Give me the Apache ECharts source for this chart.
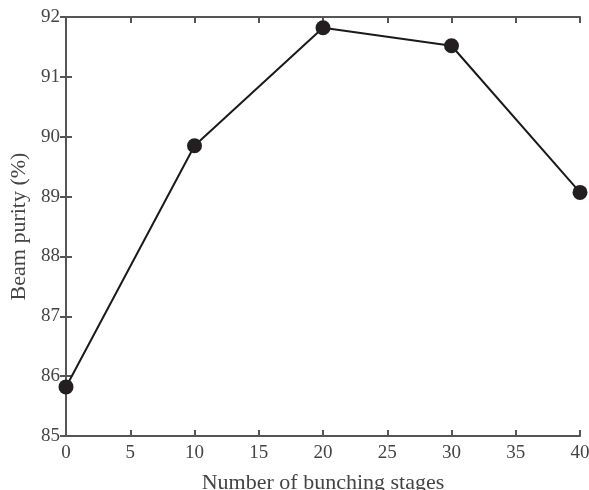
<!DOCTYPE html>
<html>
<head>
<meta charset="utf-8">
<script src="https://cdn.jsdelivr.net/npm/echarts@6/dist/echarts.min.js"></script>
<style>
  html, body { margin: 0; padding: 0; background: #fff; }
  #chart { width: 589px; height: 490px; }
</style>
</head>
<body>
<div id="chart"></div>
<script>
// Beam purity versus number of bunching stages
const stages = [0, 10, 20, 30, 40];
const purity = [85.82, 89.85, 91.82, 91.52, 89.07];
const xTicks = [0, 5, 10, 15, 20, 25, 30, 35, 40];
const yTicks = [85, 86, 87, 88, 89, 90, 91, 92];

const font = 'Liberation Serif, Times New Roman, serif';
const axisColor = '#555';
const textColor = '#444';

const tickStyle = { show: true, inside: true, length: 6, lineStyle: { color: axisColor, width: 2 } };
const lineStyle = { show: true, lineStyle: { color: axisColor, width: 2 } };

const chart = echarts.init(document.getElementById('chart'));
chart.setOption({
  animation: false,
  grid: { left: 66, right: 9, top: 17, bottom: 54, containLabel: false, outerBoundsMode: 'none' },
  xAxis: [{
    type: 'value',
    min: xTicks[0], max: xTicks[xTicks.length - 1], interval: 5,
    name: 'Number of bunching stages', nameLocation: 'middle', nameGap: 36,
    nameTextStyle: { fontFamily: font, fontSize: 22, color: textColor },
    axisLine: lineStyle,
    axisTick: tickStyle,
    axisLabel: { fontFamily: font, fontSize: 19, color: textColor, margin: 8 },
    splitLine: { show: false }
  }, {
    type: 'value', position: 'top',
    min: xTicks[0], max: xTicks[xTicks.length - 1], interval: 5,
    axisLine: lineStyle,
    axisTick: tickStyle,
    axisLabel: { show: false }, splitLine: { show: false }
  }],
  yAxis: [{
    type: 'value',
    min: yTicks[0], max: yTicks[yTicks.length - 1], interval: 1,
    name: 'Beam purity (%)', nameLocation: 'middle', nameGap: 27,
    nameTextStyle: { fontFamily: font, fontSize: 22, color: textColor },
    axisLine: lineStyle,
    axisTick: tickStyle,
    axisLabel: { fontFamily: font, fontSize: 19, color: textColor, margin: 6 },
    splitLine: { show: false }
  }, {
    type: 'value', position: 'right',
    min: yTicks[0], max: yTicks[yTicks.length - 1], interval: 1,
    axisLine: lineStyle,
    axisTick: tickStyle,
    axisLabel: { show: false }, splitLine: { show: false }
  }],
  series: [{
    type: 'line',
    data: stages.map((s, i) => [s, purity[i]]),
    symbol: 'circle', symbolSize: 15,
    lineStyle: { color: '#1a1a1a', width: 2 },
    itemStyle: { color: '#231f20' },
    z: 5
  }]
});
</script>
</body>
</html>
